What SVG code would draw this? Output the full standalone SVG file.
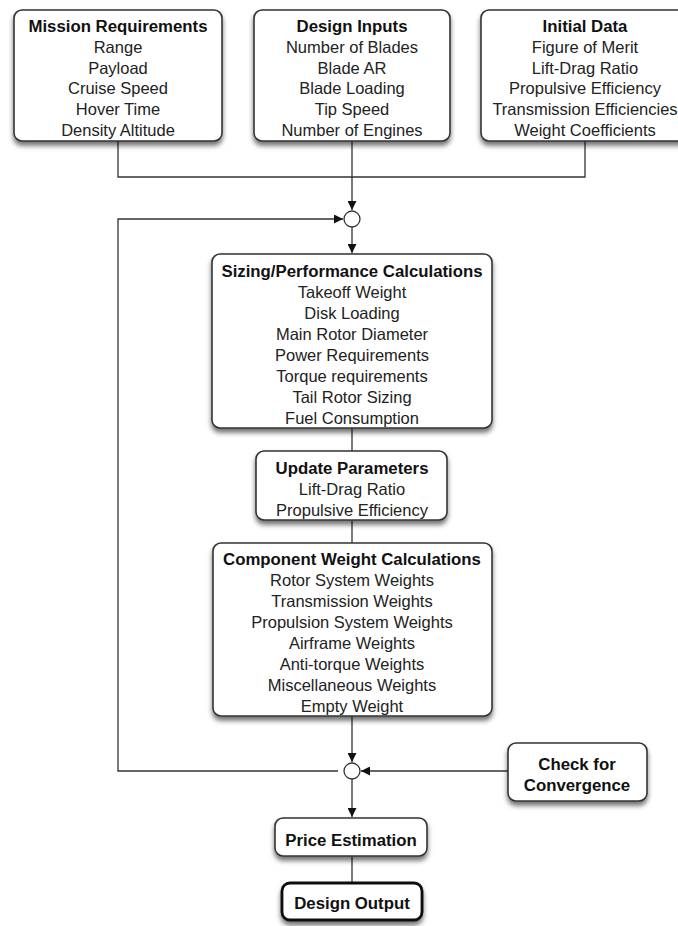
<svg xmlns="http://www.w3.org/2000/svg" width="678" height="926" viewBox="0 0 678 926">
<defs>
<filter id="sh" x="-10%" y="-10%" width="120%" height="140%">
<feDropShadow dx="0" dy="4" stdDeviation="2.5" flood-color="#000" flood-opacity="0.55"/>
</filter>
<marker id="arr" viewBox="0 0 10 10" refX="10" refY="5" markerWidth="9" markerHeight="9" markerUnits="userSpaceOnUse" orient="auto">
<path d="M0,0 L10,5 L0,10 z" fill="#111"/>
</marker>
<style>
.box{fill:#fff;stroke:#333;stroke-width:1.6;filter:url(#sh)}
.out{fill:#fff;stroke:#111;stroke-width:2.8;filter:url(#sh)}
.con{fill:none;stroke:#333;stroke-width:1.3}
.j{fill:#fff;stroke:#333;stroke-width:1.3}
text{font-family:"Liberation Sans",Arial,Helvetica,sans-serif;font-size:16.5px;fill:#222;text-anchor:middle}
.b{font-weight:bold;font-size:16.8px;fill:#111}
</style>
</defs>

<g id="connectors">
<path class="con" d="M118,141 V177 H585 V141"/>
<path class="con" d="M352,141 V210" marker-end="url(#arr)"/>
<path class="con" d="M352,227 V253" marker-end="url(#arr)"/>
<path class="con" d="M338,771 H118 V219 H343" marker-end="url(#arr)"/>
<path class="con" d="M352,428 V451"/>
<path class="con" d="M352,520 V543"/>
<path class="con" d="M352,716 V762" marker-end="url(#arr)"/>
<path class="con" d="M508,771 H361" marker-end="url(#arr)"/>
<path class="con" d="M352,779 V817" marker-end="url(#arr)"/>
<path class="con" d="M352,856 V883"/>
<circle class="j" cx="352" cy="219" r="8"/>
<circle class="j" cx="352" cy="771" r="8"/>
</g>

<g id="mission">
<rect class="box" x="14" y="10" width="208" height="131" rx="8"/>
<text class="b" x="118" y="32">Mission Requirements</text>
<text x="118" y="53">Range</text>
<text x="118" y="74">Payload</text>
<text x="118" y="94">Cruise Speed</text>
<text x="118" y="115">Hover Time</text>
<text x="118" y="136">Density Altitude</text>
</g>

<g id="design-inputs">
<rect class="box" x="254" y="10" width="196" height="131" rx="8"/>
<text class="b" x="352" y="32">Design Inputs</text>
<text x="352" y="53">Number of Blades</text>
<text x="352" y="74">Blade AR</text>
<text x="352" y="94">Blade Loading</text>
<text x="352" y="115">Tip Speed</text>
<text x="352" y="136">Number of Engines</text>
</g>

<g id="initial-data">
<rect class="box" x="481" y="10" width="208" height="131" rx="8"/>
<text class="b" x="585" y="32">Initial Data</text>
<text x="585" y="53">Figure of Merit</text>
<text x="585" y="74">Lift-Drag Ratio</text>
<text x="585" y="94">Propulsive Efficiency</text>
<text x="585" y="115">Transmission Efficiencies</text>
<text x="585" y="136">Weight Coefficients</text>
</g>

<g id="sizing">
<rect class="box" x="212" y="254" width="280" height="174" rx="8"/>
<text class="b" x="352" y="277">Sizing/Performance Calculations</text>
<text x="352" y="298">Takeoff Weight</text>
<text x="352" y="319">Disk Loading</text>
<text x="352" y="340">Main Rotor Diameter</text>
<text x="352" y="361">Power Requirements</text>
<text x="352" y="382">Torque requirements</text>
<text x="352" y="403">Tail Rotor Sizing</text>
<text x="352" y="424">Fuel Consumption</text>
</g>

<g id="update">
<rect class="box" x="256" y="451" width="191" height="69" rx="8"/>
<text class="b" x="352" y="474">Update Parameters</text>
<text x="352" y="495">Lift-Drag Ratio</text>
<text x="352" y="516">Propulsive Efficiency</text>
</g>

<g id="component">
<rect class="box" x="213" y="543" width="279" height="173" rx="8"/>
<text class="b" x="352" y="565">Component Weight Calculations</text>
<text x="352" y="586">Rotor System Weights</text>
<text x="352" y="607">Transmission Weights</text>
<text x="352" y="628">Propulsion System Weights</text>
<text x="352" y="649">Airframe Weights</text>
<text x="352" y="670">Anti-torque Weights</text>
<text x="352" y="691">Miscellaneous Weights</text>
<text x="352" y="712">Empty Weight</text>
</g>

<g id="convergence">
<rect class="box" x="508" y="743" width="139" height="58" rx="8"/>
<text class="b" x="577" y="770">Check for</text>
<text class="b" x="577" y="791">Convergence</text>
</g>

<g id="price">
<rect class="box" x="275" y="818" width="152" height="38" rx="8"/>
<text class="b" x="351" y="846">Price Estimation</text>
</g>

<g id="output">
<rect class="out" x="282" y="883" width="140" height="37" rx="8"/>
<text class="b" x="352" y="909">Design Output</text>
</g>
</svg>
